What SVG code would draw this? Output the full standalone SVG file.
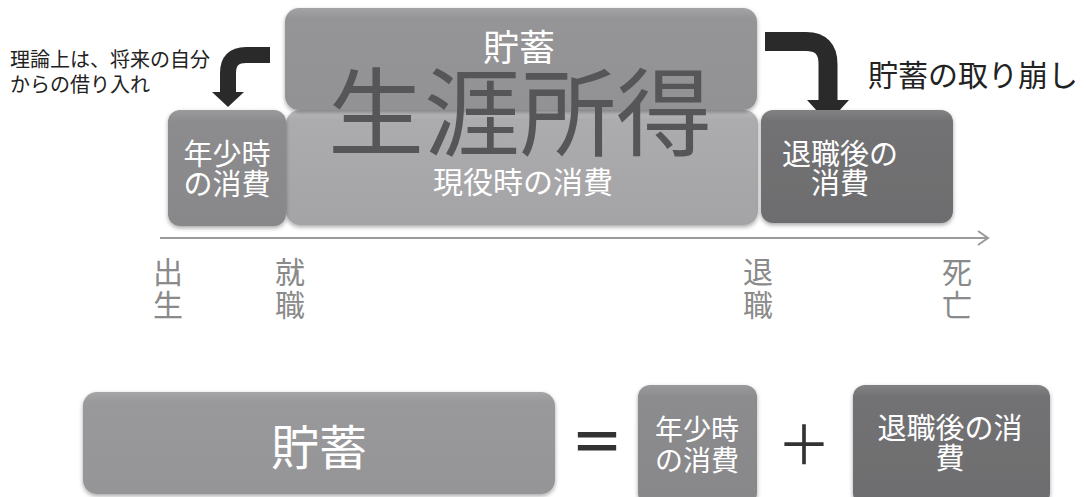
<svg xmlns="http://www.w3.org/2000/svg" width="1086" height="497" viewBox="0 0 1086 497">
<defs>
<style>
.t{font-family:"Noto Sans CJK JP","Noto Sans CJK SC",sans-serif}
.w{fill:#ffffff}
.ax{fill:#8a8a8a;font-size:30px;text-anchor:middle}
.c{text-anchor:middle}
.arr{fill:none;stroke:#2a2a2a}
</style>
<linearGradient id="gTop" x1="0" y1="0" x2="0" y2="1"><stop offset="0" stop-color="#a4a4a6"/><stop offset="0.1" stop-color="#959597"/><stop offset="1" stop-color="#929294"/></linearGradient>
<linearGradient id="gWork" x1="0" y1="0" x2="0" y2="1"><stop offset="0" stop-color="#bdbdbf"/><stop offset="0.08" stop-color="#acacae"/><stop offset="1" stop-color="#a4a4a6"/></linearGradient>
<linearGradient id="gYoung" x1="0" y1="0" x2="0" y2="1"><stop offset="0" stop-color="#9a9a9c"/><stop offset="0.1" stop-color="#8c8c8e"/><stop offset="1" stop-color="#88888a"/></linearGradient>
<linearGradient id="gOld" x1="0" y1="0" x2="0" y2="1"><stop offset="0" stop-color="#828284"/><stop offset="0.1" stop-color="#727274"/><stop offset="1" stop-color="#6d6d6f"/></linearGradient>
<linearGradient id="gSave" x1="0" y1="0" x2="0" y2="1"><stop offset="0" stop-color="#a6a6a8"/><stop offset="0.1" stop-color="#99999b"/><stop offset="1" stop-color="#959597"/></linearGradient>
<filter id="sh" x="-10%" y="-10%" width="120%" height="130%"><feDropShadow dx="0" dy="2" stdDeviation="2" flood-color="#000" flood-opacity="0.35"/></filter>
</defs>
<rect width="1086" height="497" fill="#ffffff"/>

<g id="connectors">
<line x1="160" y1="238" x2="988" y2="238" stroke="#9a9a9a" stroke-width="2"/>
<polyline points="978,231 988,238 978,245" fill="none" stroke="#9a9a9a" stroke-width="2"/>
<path class="arr" d="M270,55 H246 Q228,55 228,73 V93" stroke-width="16"/>
<polygon points="212,92 244,92 228,107" fill="#2a2a2a"/>
<path class="arr" d="M765,41.5 H806 Q828,41.5 828,64 V101" stroke-width="19"/>
<polygon points="807,100 849,100 828,123" fill="#2a2a2a"/>
</g>

<g id="work">
<rect x="286" y="110" width="472" height="115" rx="14" fill="url(#gWork)" filter="url(#sh)"/>
<text class="t w c" x="523" y="193" font-size="30">現役時の消費</text>
</g>
<g id="saving-top">
<rect x="285" y="8" width="472" height="102" rx="14" fill="url(#gTop)" filter="url(#sh)"/>
<text class="t w c" x="519" y="61" font-size="36">貯蓄</text>
</g>
<g id="young">
<rect x="168" y="110" width="118" height="116" rx="12" fill="url(#gYoung)" filter="url(#sh)"/>
<text class="t w c" x="227" y="165" font-size="29">年少時</text>
<text class="t w c" x="227" y="195" font-size="29">の消費</text>
</g>
<g id="retire">
<rect x="761" y="110" width="192" height="113" rx="12" fill="url(#gOld)" filter="url(#sh)"/>
<text class="t w c" x="840" y="165" font-size="29">退職後の</text>
<text class="t w c" x="840" y="194" font-size="29">消費</text>
</g>
<g id="lifetime">
<text class="t c" x="520" y="148" font-size="96" fill="#565658">生涯所得</text>
</g>

<g id="note-left">
<text class="t" x="10" y="67" font-size="20" fill="#222">理論上は、将来の自分</text>
<text class="t" x="10" y="92" font-size="20" fill="#222">からの借り入れ</text>
</g>
<g id="note-right">
<text class="t" x="868" y="86" font-size="30" fill="#222">貯蓄の取り崩し</text>
</g>

<g id="axis-labels">
<text class="t ax" x="168" y="283">出</text><text class="t ax" x="168" y="316">生</text>
<text class="t ax" x="290" y="283">就</text><text class="t ax" x="290" y="316">職</text>
<text class="t ax" x="758" y="283">退</text><text class="t ax" x="758" y="316">職</text>
<text class="t ax" x="957" y="283">死</text><text class="t ax" x="957" y="316">亡</text>
</g>

<g id="eq-saving">
<rect x="83" y="392" width="472" height="102" rx="14" fill="url(#gSave)" filter="url(#sh)"/>
<text class="t w c" x="319" y="465" font-size="48">貯蓄</text>
</g>
<g id="eq-sign">
<text class="t c" x="597" y="439" font-size="54" font-weight="bold" fill="#333" dominant-baseline="central">＝</text>
</g>
<g id="eq-young">
<rect x="638" y="385" width="119" height="120" rx="12" fill="url(#gYoung)" filter="url(#sh)"/>
<text class="t w c" x="697" y="440" font-size="28">年少時</text>
<text class="t w c" x="697" y="471" font-size="28">の消費</text>
</g>
<g id="plus-sign">
<text class="t c" x="804" y="441" font-size="54" fill="#333" dominant-baseline="central">＋</text>
</g>
<g id="eq-retire">
<rect x="853" y="385" width="197" height="120" rx="12" fill="url(#gOld)" filter="url(#sh)"/>
<text class="t w c" x="950" y="439" font-size="29">退職後の消</text>
<text class="t w c" x="950" y="469" font-size="29">費</text>
</g>
</svg>
